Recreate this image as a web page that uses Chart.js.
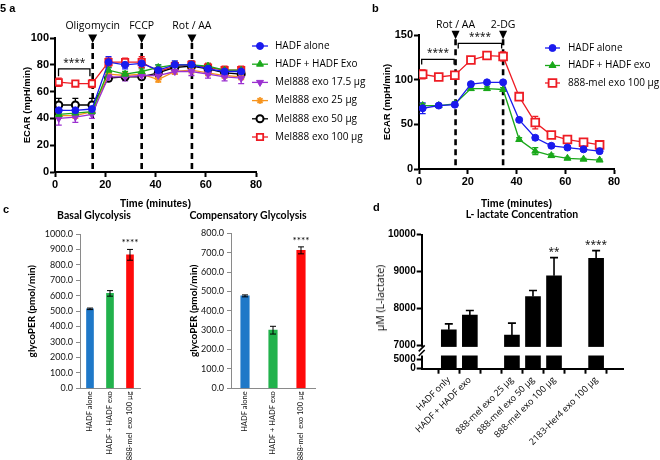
<!DOCTYPE html>
<html><head><meta charset="utf-8">
<script src="https://cdn.jsdelivr.net/npm/chart.js@4.4.1/dist/chart.umd.min.js"></script>
<style>
html,body{margin:0;padding:0;background:#fff;}
#wrap{position:relative;width:660px;height:460px;overflow:hidden;background:#fff;}
canvas{position:absolute;}
.t{position:absolute;white-space:nowrap;color:#000;line-height:1;}
.c{transform:translate(-50%,-50%);}
</style></head><body>
<div id="wrap">
  <canvas id="cA" width="370" height="210" style="left:0;top:0"></canvas>
  <canvas id="cB" width="330" height="210" style="left:330px;top:0"></canvas>
  <canvas id="cC1" width="165" height="260" style="left:0;top:200px"></canvas>
  <canvas id="cC2" width="170" height="260" style="left:160px;top:200px"></canvas>
  <canvas id="cD" width="330" height="260" style="left:330px;top:200px"></canvas>
  <div class="t" style="left:0;top:2px;font:bold 11px 'Liberation Sans',Arial,sans-serif">5 a</div>
  <div class="t" style="left:372px;top:2px;font:bold 11px 'Liberation Sans',Arial,sans-serif">b</div>
  <div class="t" style="left:3px;top:203px;font:bold 11px 'Liberation Sans',Arial,sans-serif">c</div>
  <div class="t" style="left:373px;top:201px;font:bold 11px 'Liberation Sans',Arial,sans-serif">d</div>
  <div class="t c" style="left:94px;top:215px;font:bold 10.5px Lato,sans-serif">Basal Glycolysis</div>
  <div class="t c" style="left:248px;top:215px;font:bold 10.5px Lato,sans-serif">Compensatory Glycolysis</div>
  <div class="t c" style="left:522px;top:214px;font:bold 10.5px Lato,sans-serif">L- lactate Concentration</div>
  <div class="t" style="left:380px;top:298px;font:10.5px 'Open Sans',sans-serif;transform:translate(-50%,-50%) rotate(-90deg)">µM (L-lactate)</div>
</div>
<script>
// ---------------- DATA ----------------
// Panel a: ECAR time course
const timeA = [1.5, 8.1, 14.7, 21.3, 27.9, 34.5, 41.1, 47.7, 54.3, 60.9, 67.5, 74.1];
const hadfAloneA = [46, 46, 47, 82, 80, 81, 76, 80, 80, 77, 75, 75];
const hadfExoA   = [43, 44, 45, 76, 73, 75, 78, 80, 80, 79, 76, 76];
const mel175A    = [40, 41, 43, 71, 71, 72, 72, 75, 75, 73, 71, 70];
const mel25A     = [42, 42, 45, 73, 72, 73, 69, 75, 76, 74, 72, 71];
const mel50A     = [50, 50, 50, 70, 71, 71, 74, 78, 79, 77, 74, 73];
const mel100A    = [67, 66, 66, 82, 82, 82, 75, 79, 80, 78, 76, 76];
const errHadfAloneA = [3, 3, 3, 4, 3, 3, 4, 3, 3, 3, 3, 3];
const errHadfExoA   = [2, 2, 2, 2, 2, 2, 2, 2, 2, 2, 2, 2];
const errMel175A    = [5, 4, 3, 3, 3, 2, 2, 2, 3, 3, 3, 4];
const errMel25A     = [2, 2, 2, 2, 2, 2, 2, 2, 2, 2, 2, 2];
const errMel50A     = [5, 5, 5, 2, 2, 2, 3, 3, 3, 3, 3, 3];
const errMel100A    = [3, 2, 3, 3, 3, 4, 3, 3, 3, 3, 3, 3];
const injectionsA = [{t: 15, label: 'Oligomycin'}, {t: 34.5, label: 'FCCP'}, {t: 54.5, label: 'Rot / AA'}];

// Panel b: glycolytic rate assay
const timeB = [1.5, 8.1, 14.7, 21.3, 27.9, 34.5, 41.1, 47.7, 54.3, 60.9, 67.5, 74.1];
const hadfAloneB = [68, 71, 72, 95, 97, 97, 55, 35, 26, 24, 22, 20];
const hadfExoB   = [71, 71, 73, 90, 90, 89, 33, 20, 15, 12, 11, 10];
const mel100B    = [106, 103, 105, 122, 127, 126, 81, 52, 38, 33, 30, 27];
const errHadfAloneB = [6, 2, 2, 2, 2, 2, 2, 2, 2, 2, 2, 2];
const errHadfExoB   = [2, 2, 2, 2, 2, 2, 2, 4, 2, 1, 1, 1];
const errMel100B    = [5, 3, 4, 3, 4, 5, 3, 7, 3, 3, 3, 3];
const injectionsB = [{t: 15, label: 'Rot / AA'}, {t: 34.5, label: '2-DG'}];

// Panel c
const catsC = ['HADF alone', 'HADF + HADF exo', '888-mel  exo 100 µg'];
const basalC = [515, 615, 865];
const basalErrC = [5, 18, 35];
const compC = [477, 300, 712];
const compErrC = [5, 20, 18];
const starsC = ['', '', '****'];

// Panel d
const catsD = ['HADF only', 'HADF + HADF exo', '888-mel exo 25 µg', '888-mel exo 50 µg', '888-mel exo 100 µg', '2183-Her4 exo 100 µg'];
const posD = [0, 1, 3, 4, 5, 7];
const lactD = [7430, 7830, 7290, 8330, 8890, 9360];
const lactErrD = [160, 120, 320, 160, 490, 210];
const starsD = ['', '', '', '', '**', '****'];
const ticksD = [0, 5000, 7000, 8000, 9000, 10000];
const breakD = 7000;

// ---------------- CHARTS ----------------
const SANS = '"Liberation Sans", Arial, sans-serif';
const TXT = '"Open Sans", sans-serif';
const CAL = 'Lato, sans-serif';
Chart.defaults.animation = false;
Chart.defaults.responsive = false;
Chart.defaults.color = '#000';
Chart.defaults.plugins.legend.display = false;
Chart.defaults.plugins.tooltip.enabled = false;

function merge(a, b) {
  const o = Object.assign({}, a);
  for (const k in b) {
    if (b[k] && typeof b[k] === 'object' && !Array.isArray(b[k]) && a[k] && typeof a[k] === 'object') o[k] = merge(a[k], b[k]);
    else o[k] = b[k];
  }
  return o;
}
const gpAxis = () => ({
  border: {color: '#000', width: 2},
  grid: {drawOnChartArea: false, drawTicks: true, tickLength: 5, tickColor: '#000', tickWidth: 2},
  ticks: {color: '#000', font: {family: SANS, size: 11, weight: 'bold'}, padding: 1}
});

function drawMarker(ctx, s, x, y) {
  ctx.save();
  ctx.fillStyle = s.fill; ctx.strokeStyle = s.color; ctx.lineWidth = s.bw;
  if (Chart.helpers && Chart.helpers.drawPoint) {
    Chart.helpers.drawPoint(ctx, {pointStyle: s.style, rotation: s.rot || 0, radius: s.r, borderWidth: s.bw}, x, y);
  } else {
    ctx.beginPath(); ctx.arc(x, y, s.r, 0, Math.PI * 2); ctx.fill(); ctx.stroke();
  }
  ctx.restore();
}

function lineDs(s, times) {
  return {
    label: s.label, data: times.map((t, i) => ({x: t, y: s.values[i]})),
    borderColor: s.color, backgroundColor: s.fill, borderWidth: 1.3,
    pointStyle: s.style, pointRadius: s.r, pointRotation: s.rot || 0,
    pointBorderColor: s.color, pointBackgroundColor: s.fill, pointBorderWidth: s.bw, tension: 0
  };
}

function errPlugin(id, items, when) {
  const fn = function (chart) {
    const ctx = chart.ctx, ys = chart.scales.y;
    items.forEach(it => {
      const meta = chart.getDatasetMeta(it.ds);
      const ds = chart.data.datasets[it.ds];
      ctx.save(); ctx.strokeStyle = it.color; ctx.lineWidth = it.lw || 1;
      meta.data.forEach((el, i) => {
        const d = ds.data[i]; const v = (typeof d === 'object') ? d.y : d; const e = it.err[i];
        if (!e) return;
        const x = el.x;
        const yTop = ys.getPixelForValue(v + e);
        const yBot = it.down === false ? ys.getPixelForValue(v) : ys.getPixelForValue(v - e);
        ctx.beginPath();
        ctx.moveTo(x, yTop); ctx.lineTo(x, yBot);
        ctx.moveTo(x - it.cap, yTop); ctx.lineTo(x + it.cap, yTop);
        if (it.down !== false) { ctx.moveTo(x - it.cap, yBot); ctx.lineTo(x + it.cap, yBot); }
        ctx.stroke();
      });
      ctx.restore();
    });
  };
  const p = {id: id}; p[when] = fn; return p;
}

function starsPlugin(id, stars, errs, font) {
  return {id: id, afterDatasetsDraw(chart) {
    const ctx = chart.ctx, ys = chart.scales.y, meta = chart.getDatasetMeta(0), ds = chart.data.datasets[0];
    ctx.save(); ctx.fillStyle = '#000'; ctx.font = font; ctx.textAlign = 'center'; ctx.textBaseline = 'alphabetic';
    meta.data.forEach((el, i) => {
      if (!stars[i]) return;
      const d = ds.data[i]; const v = (typeof d === 'object') ? d.y : d;
      ctx.fillText(stars[i], el.x, ys.getPixelForValue(v + errs[i]) - 3);
    });
    ctx.restore();
  }};
}

function annotPlugin(id, cfg) {
  return {
    id: id,
    beforeDatasetsDraw(chart) {
      const {ctx, chartArea, scales} = chart;
      ctx.save(); ctx.strokeStyle = '#000'; ctx.lineWidth = 2.6; ctx.setLineDash([6, 4]);
      cfg.injections.forEach(inj => {
        const px = scales.x.getPixelForValue(inj.t);
        ctx.beginPath(); ctx.moveTo(px, chartArea.top + cfg.tip); ctx.lineTo(px, chartArea.bottom); ctx.stroke();
      });
      ctx.restore();
    },
    afterDraw(chart) {
      const {ctx, chartArea, scales} = chart;
      ctx.save();
      ctx.fillStyle = '#000'; ctx.strokeStyle = '#000';
      ctx.font = '10.5px ' + TXT; ctx.textAlign = 'center'; ctx.textBaseline = 'middle';
      cfg.injections.forEach(inj => {
        const px = scales.x.getPixelForValue(inj.t);
        ctx.fillText(inj.label, px, chartArea.top + cfg.textY);
        ctx.beginPath();
        ctx.moveTo(px - cfg.hw, chartArea.top + cfg.top);
        ctx.lineTo(px + cfg.hw, chartArea.top + cfg.top);
        ctx.lineTo(px, chartArea.top + cfg.tip);
        ctx.closePath(); ctx.fill();
      });
      ctx.lineWidth = 1.3; ctx.font = '10px ' + TXT; ctx.textBaseline = 'alphabetic';
      cfg.brackets.forEach(b => {
        const x1 = scales.x.getPixelForValue(b.from), x2 = scales.x.getPixelForValue(b.to);
        const y = scales.y.getPixelForValue(b.y);
        ctx.beginPath();
        ctx.moveTo(x1, y + cfg.drop); ctx.lineTo(x1, y); ctx.lineTo(x2, y); ctx.lineTo(x2, y + cfg.drop);
        ctx.stroke();
        ctx.fillText('****', (x1 + x2) / 2, y - 3);
      });
      ctx.restore();
    }
  };
}

function legendPlugin(id, cfg) {
  return {id: id, afterDraw(chart) {
    const ctx = chart.ctx;
    ctx.save();
    cfg.items.forEach((s, i) => {
      const y = cfg.y0 + i * cfg.dy;
      ctx.strokeStyle = s.color; ctx.lineWidth = 1.3;
      ctx.beginPath(); ctx.moveTo(cfg.x, y); ctx.lineTo(cfg.x + cfg.len, y); ctx.stroke();
      drawMarker(ctx, s, cfg.x + cfg.len / 2, y);
      ctx.fillStyle = '#000'; ctx.font = '10px ' + TXT; ctx.textAlign = 'left'; ctx.textBaseline = 'middle';
      ctx.fillText(s.label, cfg.tx, y);
    });
    ctx.restore();
  }};
}

// ---- Panel a ----
const seriesA = [
  {label: 'HADF alone', values: hadfAloneA, err: errHadfAloneA, color: '#1a1aee', fill: '#1a1aee', style: 'circle', r: 3.5, bw: 1},
  {label: 'HADF + HADF Exo', values: hadfExoA, err: errHadfExoA, color: '#1aa81a', fill: '#1aa81a', style: 'triangle', r: 4, bw: 1},
  {label: 'Mel888 exo 17.5 µg', values: mel175A, err: errMel175A, color: '#9b30d0', fill: '#9b30d0', style: 'triangle', rot: 180, r: 4, bw: 1},
  {label: 'Mel888 exo 25 µg', values: mel25A, err: errMel25A, color: '#f7941d', fill: '#f7941d', style: 'star', r: 3.5, bw: 1.6},
  {label: 'Mel888 exo 50 µg', values: mel50A, err: errMel50A, color: '#000000', fill: '#ffffff', style: 'circle', r: 3.5, bw: 2},
  {label: 'Mel888 exo 100 µg', values: mel100A, err: errMel100A, color: '#ee1c24', fill: '#ffffff', style: 'rect', r: 4.5, bw: 1.8}
];
new Chart(document.getElementById('cA'), {
  type: 'line',
  data: {datasets: seriesA.map(s => lineDs(s, timeA))},
  options: {
    layout: {padding: {left: 0, top: 38, right: 114, bottom: 0}},
    scales: {
      x: merge(gpAxis(), {type: 'linear', min: 0, max: 80, ticks: {stepSize: 20},
        title: {display: true, text: 'Time (minutes)', color: '#000', font: {family: SANS, size: 10, weight: 'bold'}, padding: {top: 9, bottom: 0}},
        afterFit(s) { s.height = 38; }}),
      y: merge(gpAxis(), {min: 0, max: 100, ticks: {stepSize: 20},
        title: {display: true, text: 'ECAR (mpH/min)', color: '#000', font: {family: SANS, size: 9.5, weight: 'bold'}, padding: {top: 22, bottom: 0}},
        afterFit(s) { s.width = 55; }})
    }
  },
  plugins: [
    annotPlugin('annA', {injections: injectionsA, textY: -12, top: -3.5, tip: 5, hw: 4.5, drop: 7.5,
      brackets: [{from: 1.4, to: 13.9, y: 77}]}),
    errPlugin('errA', seriesA.map((s, i) => ({ds: i, err: s.err, color: s.color, cap: 3, lw: 1.3})), 'beforeDatasetsDraw'),
    legendPlugin('legA', {x: 252, len: 16, tx: 275, y0: 46, dy: 18.2, items: seriesA})
  ]
});

// ---- Panel b ----
const seriesB = [
  {label: 'HADF alone', values: hadfAloneB, err: errHadfAloneB, color: '#1a1aee', fill: '#1a1aee', style: 'circle', r: 3.5, bw: 1},
  {label: 'HADF + HADF exo', values: hadfExoB, err: errHadfExoB, color: '#1aa81a', fill: '#1aa81a', style: 'triangle', r: 4, bw: 1},
  {label: '888-mel exo 100 µg', values: mel100B, err: errMel100B, color: '#ee1c24', fill: '#ffffff', style: 'rect', r: 5.5, bw: 1.8}
];
new Chart(document.getElementById('cB'), {
  type: 'line',
  data: {datasets: seriesB.map(s => lineDs(s, timeB))},
  options: {
    layout: {padding: {left: 0, top: 35, right: 46, bottom: 0}},
    scales: {
      x: merge(gpAxis(), {type: 'linear', min: 0, max: 80, ticks: {stepSize: 20},
        title: {display: true, text: 'Time (minutes)', color: '#000', font: {family: SANS, size: 10, weight: 'bold'}, padding: {top: 9, bottom: 0}},
        afterFit(s) { s.height = 41; }}),
      y: merge(gpAxis(), {min: 0, max: 150, ticks: {stepSize: 50},
        title: {display: true, text: 'ECAR (mpH/min)', color: '#000', font: {family: SANS, size: 9.5, weight: 'bold'}, padding: {top: 51.5, bottom: 0}},
        afterFit(s) { s.width = 89; }})
    }
  },
  plugins: [
    annotPlugin('annB', {injections: injectionsB, textY: -10, top: -4.3, tip: 4.3, hw: 4, drop: 5,
      brackets: [{from: 1.1, to: 14.4, y: 122.7}, {from: 16.1, to: 33.9, y: 140.6}]}),
    errPlugin('errB', seriesB.map((s, i) => ({ds: i, err: s.err, color: s.color, cap: 3, lw: 1.3})), 'beforeDatasetsDraw'),
    legendPlugin('legB', {x: 215, len: 15, tx: 238, y0: 48, dy: 17.5, items: seriesB})
  ]
});

// ---- Panel c ----
const colorsC = ['#1f78c8', '#22b24c', '#ff0a0a'];
function cChart(id, values, errs, max, bw, padRight, padTop, yWidth, titlePad) {
  new Chart(document.getElementById(id), {
    type: 'bar',
    data: {labels: catsC, datasets: [{data: values, backgroundColor: colorsC, barThickness: bw}]},
    options: {
      layout: {padding: {left: 0, top: padTop, right: padRight, bottom: 0}},
      scales: {
        x: {grid: {drawOnChartArea: false, drawTicks: false}, border: {color: '#8a8a8a', width: 1},
          ticks: {minRotation: 90, maxRotation: 90, autoSkip: false, color: '#111', font: {family: CAL, size: 7.5}, padding: 3},
          afterFit(s) { s.height = 71.7; }},
        y: {min: 0, max: max,
          ticks: {stepSize: 100, callback: v => v.toFixed(1), color: '#111', font: {family: CAL, size: 9}, padding: 3},
          grid: {drawOnChartArea: false, tickLength: 4, tickColor: '#8a8a8a'}, border: {color: '#8a8a8a', width: 1},
          title: {display: true, text: 'glycoPER (pmol/min)', color: '#000', font: {family: CAL, size: 10, weight: 'bold'}, padding: {top: titlePad, bottom: 0}},
          afterFit(s) { s.width = yWidth; }}
      }
    },
    plugins: [
      errPlugin(id + 'err', [{ds: 0, err: errs, color: '#000', cap: 3, lw: 1}], 'afterDatasetsDraw'),
      starsPlugin(id + 'st', starsC, errs, '10px ' + CAL)
    ]
  });
}
cChart('cC1', basalC, basalErrC, 1000, 7, 25, 34, 80, 26);
cChart('cC2', compC, compErrC, 800, 8.5, 15, 33.3, 71, 28);

// ---- Panel d: one chart with a broken linear y scale ----
const LOW_SEG_PX = 13.2;   // height of the 0–7000 segment
const GAP_PX = 9.8;        // white gap between the two segments
class BrokenLinearScale extends Chart.LinearScale {
  getPixelForValue(value) {
    if (value < breakD) return this.bottom - (value / breakD) * LOW_SEG_PX;
    const h = this.bottom - this.top - LOW_SEG_PX - GAP_PX;
    return this.bottom - LOW_SEG_PX - GAP_PX - (value - breakD) / (this.max - breakD) * h;
  }
  getValueForPixel(pixel) {
    if (pixel > this.bottom - LOW_SEG_PX) return (this.bottom - pixel) / LOW_SEG_PX * breakD;
    const h = this.bottom - this.top - LOW_SEG_PX - GAP_PX;
    return breakD + (this.bottom - LOW_SEG_PX - GAP_PX - pixel) / h * (this.max - breakD);
  }
}
BrokenLinearScale.id = 'brokenLinear';
Chart.register(BrokenLinearScale);

const gapPlugin = {id: 'gapD', afterDatasetsDraw(chart) {
  const {ctx, chartArea} = chart; const ys = chart.scales.y;
  const yTop = ys.getPixelForValue(breakD) + 1.2;
  const yBot = ys.getPixelForValue(breakD - 0.001);
  const x = chartArea.left;
  ctx.save();
  ctx.fillStyle = '#fff';
  ctx.fillRect(x - 1.5, yTop, chartArea.right - x + 1.5, yBot - yTop);
  ctx.strokeStyle = '#000'; ctx.lineWidth = 1.6;
  [yTop + 1.5, yBot - 2.5].forEach(y => {
    ctx.beginPath(); ctx.moveTo(x - 3, y + 3); ctx.lineTo(x + 3, y - 3); ctx.stroke();
  });
  ctx.restore();
}};

new Chart(document.getElementById('cD'), {
  type: 'bar',
  data: {datasets: [{data: posD.map((p, i) => ({x: p, y: lactD[i]})), backgroundColor: '#000', barThickness: 15}]},
  options: {
    layout: {padding: {left: 0, top: 34.7, right: 37, bottom: 0}},
    scales: {
      x: merge(gpAxis(), {type: 'linear', min: -0.69, max: 7.68,
        ticks: {autoSkip: false, minRotation: 45, maxRotation: 45, font: {family: TXT, size: 9, weight: 'normal'}, padding: 1,
          callback: v => { const i = posD.indexOf(v); return i >= 0 ? catsD[i] : ''; }},
        afterBuildTicks(s) { s.ticks = [0, 1, 2, 3, 4, 5, 6, 7].map(v => ({value: v})); },
        afterFit(s) { s.height = 91.3; }}),
      y: merge(gpAxis(), {type: 'brokenLinear', min: 0, max: 10000,
        ticks: {font: {size: 10}, autoSkip: false, callback: v => String(v)},
        afterBuildTicks(s) { s.ticks = ticksD.map(v => ({value: v})); },
        afterFit(s) { s.width = 91.7; }})
    }
  },
  plugins: [
    gapPlugin,
    errPlugin('errD', [{ds: 0, err: lactErrD, color: '#000', cap: 4, lw: 1.6, down: false}], 'afterDatasetsDraw'),
    starsPlugin('stD', starsD, lactErrD, '10px ' + TXT)
  ]
});
</script>
</body></html>
